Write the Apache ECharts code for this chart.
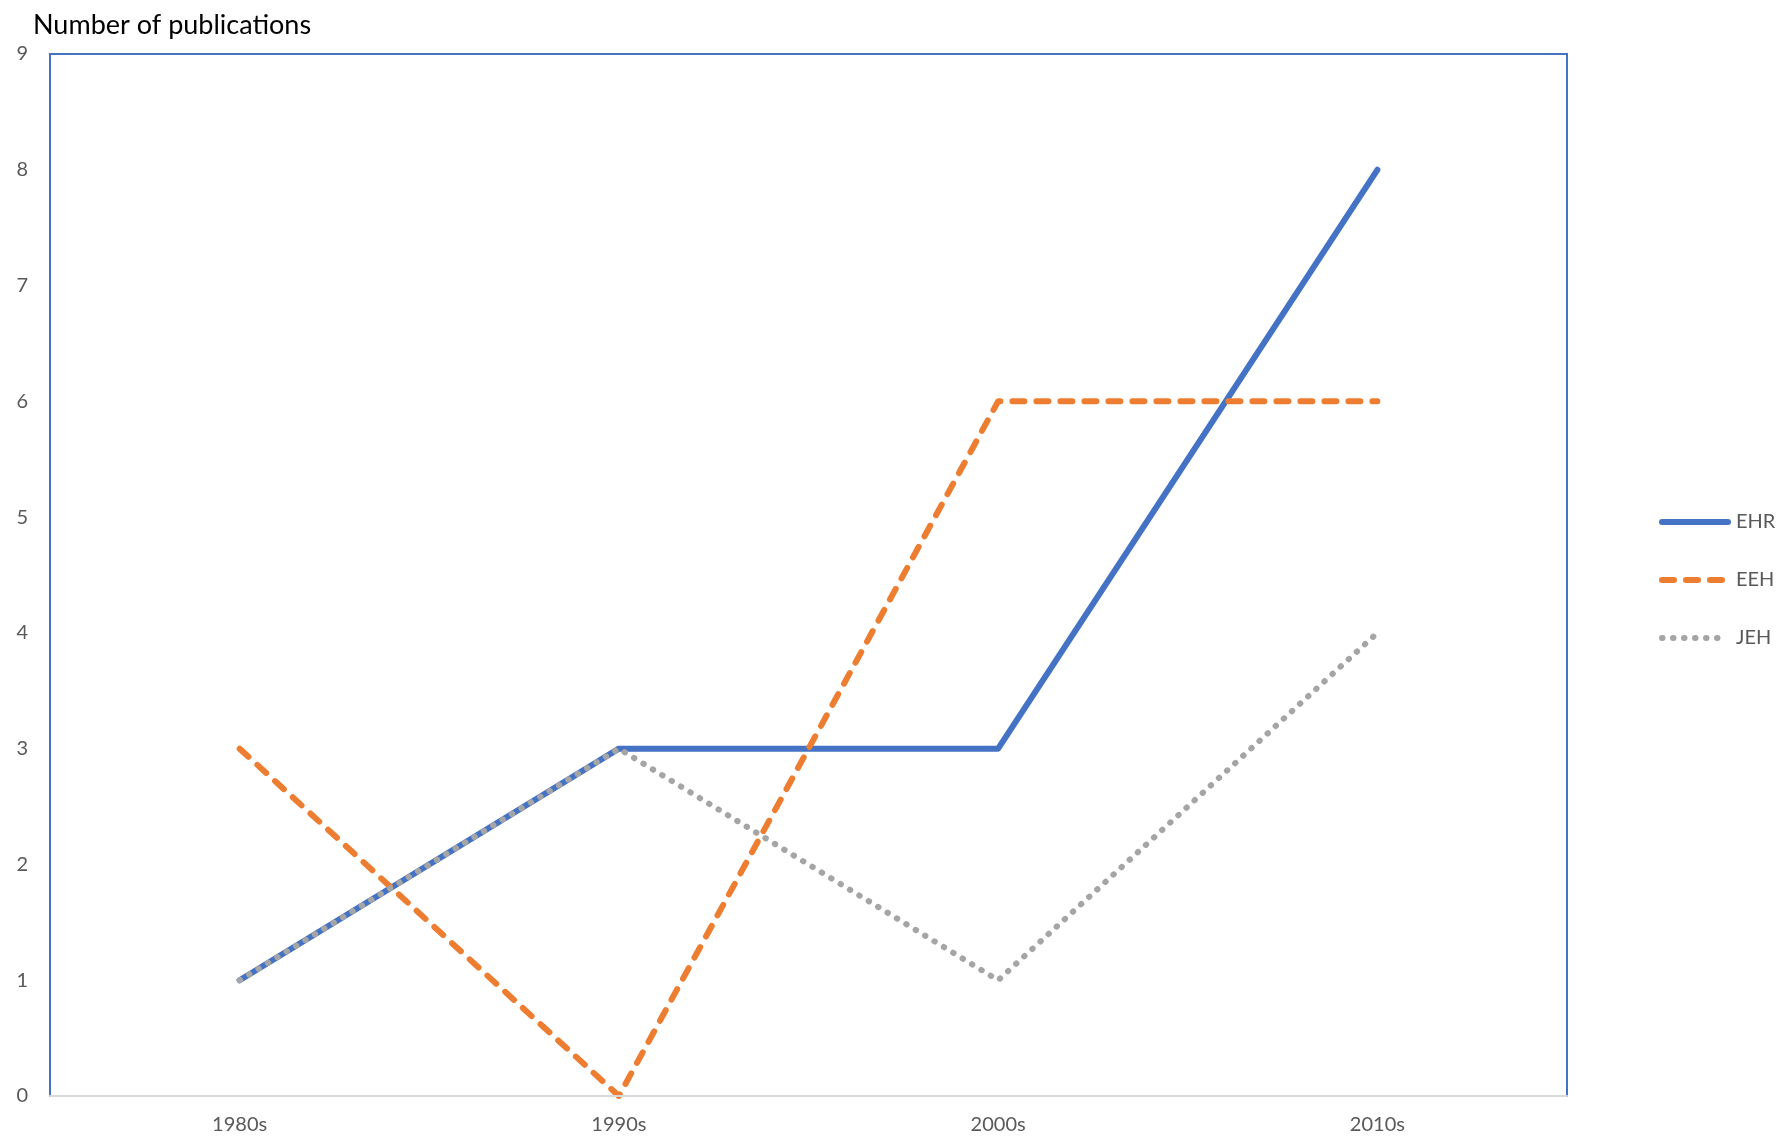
<!DOCTYPE html>
<html>
<head>
<meta charset="utf-8">
<style>html,body{margin:0;padding:0;background:#fff;}#c{width:1781px;height:1141px;}</style>
<script src="https://cdn.jsdelivr.net/npm/echarts@6/dist/echarts.min.js"></script>
</head>
<body>
<div id="c"></div>
<script>
const categories = ['1980s', '1990s', '2000s', '2010s'];
const ehr = [1, 3, 3, 8];
const eeh = [3, 0, 6, 6];
const jeh = [1, 3, 1, 4];
const seriesNames = ['EHR', 'EEH', 'JEH'];
const yTitle = 'Number of publications';

const font = 'Lato, "Open Sans", sans-serif';
const chart = echarts.init(document.getElementById('c'));
chart.setOption({
  animation: false,
  backgroundColor: '#fff',
  title: {
    text: yTitle, left: 28, top: 7,
    textStyle: { fontFamily: font, fontSize: 27, fontWeight: 'normal', color: '#000' }
  },
  grid: {
    left: 50, right: 214, top: 54, bottom: 45,
    show: true, borderColor: '#4472C4', borderWidth: 2, backgroundColor: 'transparent'
  },
  legend: {
    orient: 'vertical', left: 1654, top: 507,
    itemWidth: 66, itemHeight: 16, itemGap: 38,
    itemStyle: { opacity: 0 },
    lineStyle: { width: 6, cap: 'round' },
    textStyle: { fontFamily: font, fontSize: 20, color: '#595959', padding: [0, 0, 0, 3] },
    data: seriesNames
  },
  xAxis: {
    type: 'category', data: categories, boundaryGap: true,
    axisLine: { lineStyle: { color: '#D9D9D9', width: 2 } },
    axisTick: { show: false },
    axisLabel: { fontFamily: font, fontSize: 20, color: '#595959', margin: 19 },
    splitLine: { show: false }, z: 5
  },
  yAxis: {
    type: 'value', min: 0, max: 9, interval: 1,
    axisLine: { show: false }, axisTick: { show: false },
    axisLabel: { fontFamily: font, fontSize: 20, color: '#595959', margin: 22 },
    splitLine: { show: false }
  },
  series: [
    { name: seriesNames[0], type: 'line', data: ehr, symbol: 'none', color: '#4472C4',
      lineStyle: { color: '#4472C4', width: 6, cap: 'round', join: 'round' } },
    { name: seriesNames[1], type: 'line', data: eeh, symbol: 'none', color: '#ED7D31',
      lineStyle: { color: '#ED7D31', width: 6, type: [12, 12], cap: 'round', join: 'round' } },
    { name: seriesNames[2], type: 'line', data: jeh, symbol: 'none', color: '#A5A5A5',
      lineStyle: { color: '#A5A5A5', width: 6, type: [0.5, 10.5], cap: 'round', join: 'round' } }
  ]
});
</script>
</body>
</html>
